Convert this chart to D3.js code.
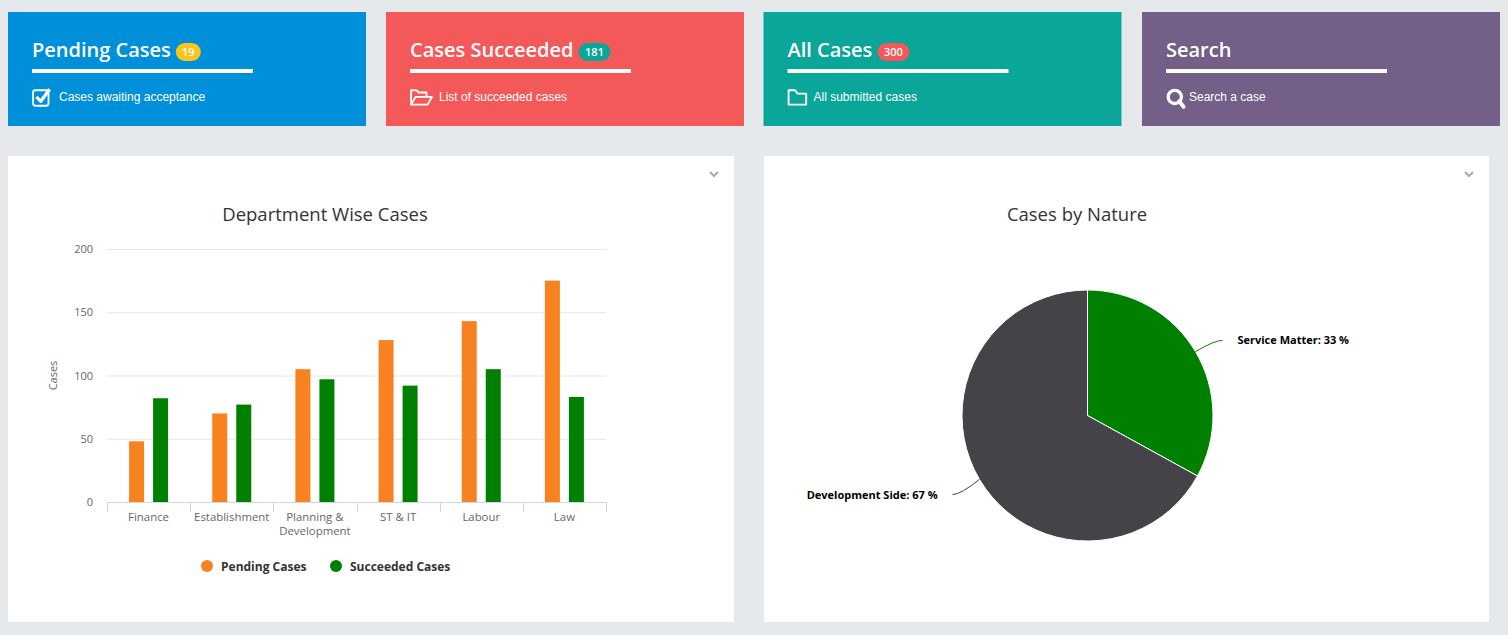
<!DOCTYPE html>
<html>
<head>
<meta charset="utf-8">
<script src="https://cdnjs.cloudflare.com/ajax/libs/d3/7.8.5/d3.min.js"></script>
<style>
  body { margin: 0; background: #e5e9ec; }
  svg { display: block; }
</style>
</head>
<body>
<div id="page"></div>
<script>
var pageWidth = 1508;
var pageHeight = 635;

// top tiles
var tileTitles = ["Pending Cases", "Cases Succeeded", "All Cases", "Search"];
var tileBadges = ["19", "181", "300", null];
var tileTexts = ["Cases awaiting acceptance", "List of succeeded cases", "All submitted cases", "Search a case"];
var tileIcons = ["check", "folderOpen", "folder", "search"];
var tileColors = ["#0090d9", "#f35958", "#0aa699", "#735f87"];
var badgeColors = ["#fbc51b", "#0aa699", "#f35958", null];

// bar chart
var departments = ["Finance", "Establishment", "Planning & Development", "ST & IT", "Labour", "Law"];
var pendingCases = [48, 70, 105, 128, 143, 175];
var succeededCases = [82, 77, 97, 92, 105, 83];
var seriesNames = ["Pending Cases", "Succeeded Cases"];
var seriesColors = ["#f7821f", "#008000"];
var yTicks = [0, 50, 100, 150, 200];

// pie chart
var natureLabels = ["Service Matter", "Development Side"];
var natureValues = [33, 67];
var natureColors = ["#008000", "#434348"];

var svg = d3.select("#page").append("svg")
  .attr("width", pageWidth)
  .attr("height", pageHeight);

// ---------- tiles ----------
var tileW = 358, tileH = 114, tileGap = 20;

var tiles = svg.selectAll("g.tile")
  .data(tileTitles)
  .enter()
  .append("g")
  .attr("class", "tile")
  .attr("transform", (d, i) => `translate(${8 + i * (tileW + tileGap) - (i == 2 ? 0.5 : 0)}, 12)`);

tiles.append("rect")
  .attr("width", tileW)
  .attr("height", tileH)
  .attr("fill", (d, i) => tileColors[i]);

tiles.append("text")
  .attr("x", 24)
  .attr("y", 45)
  .attr("fill", "#fff")
  .style("font-family", "'Open Sans', sans-serif")
  .style("font-weight", 600)
  .style("font-size", "20px")
  .text(d => d);

tiles.each(function(d, i) {
  if (!tileBadges[i]) return;
  var g = d3.select(this);
  var tw = g.select("text").node().getComputedTextLength();
  var bw = tileBadges[i].length * 7 + 11;
  g.append("rect")
    .attr("x", 24 + tw + 5)
    .attr("y", 31)
    .attr("width", bw)
    .attr("height", 18)
    .attr("rx", 9)
    .attr("fill", badgeColors[i]);
  g.append("text")
    .attr("x", 24 + tw + 5 + bw / 2)
    .attr("y", 44)
    .attr("text-anchor", "middle")
    .attr("fill", "#fff")
    .style("font-family", "'Open Sans', sans-serif")
    .style("font-weight", 600)
    .style("font-size", "11px")
    .text(tileBadges[i]);
});

tiles.append("rect")
  .attr("x", 24)
  .attr("y", 57)
  .attr("width", 221)
  .attr("height", 4)
  .attr("fill", "#fff");

tiles.append("text")
  .attr("x", (d, i) => [51, 53, 50, 47][i])
  .attr("y", 89)
  .attr("fill", "#fff")
  .style("font-family", "'Liberation Sans', Arial, sans-serif")
  .style("font-size", "12px")
  .text((d, i) => tileTexts[i]);

// small icons
tiles.each(function(d, i) {
  var g = d3.select(this).append("g")
    .attr("transform", "translate(24, 75) scale(1.1)")
    .attr("fill", "none")
    .attr("stroke", "#fff")
    .attr("stroke-width", 1.7)
    .attr("stroke-linejoin", "round");
  if (tileIcons[i] == "check") {
    g.append("rect").attr("x", 1).attr("y", 3).attr("width", 14).attr("height", 14).attr("rx", 2);
    g.append("path").attr("d", "M4,9 L8,13 L16,2").attr("stroke-width", 3);
  } else if (tileIcons[i] == "folderOpen") {
    g.append("path").attr("d", "M1,16 L1,3 L6,3 L8,5 L15,5 L15,9");
    g.append("path").attr("d", "M1,16 L5,9 L20,9 L16,16 Z");
  } else if (tileIcons[i] == "folder") {
    g.append("path").attr("d", "M1,16 L1,3 L7,3 L9,6 L17,6 L17,16 Z");
  } else {
    g.append("circle").attr("cx", 8).attr("cy", 9).attr("r", 6).attr("stroke-width", 3);
    g.append("path").attr("d", "M12,13 L16,18").attr("stroke-width", 3.5).attr("stroke-linecap", "round");
  }
});

// ---------- chart panels ----------
var panels = [{x: 8, w: 726}, {x: 764, w: 725}];
panels.forEach(function(p) {
  svg.append("rect")
    .attr("x", p.x).attr("y", 156)
    .attr("width", p.w).attr("height", 466)
    .attr("fill", "#fff");
  svg.append("path")
    .attr("d", `M${p.x + p.w - 24},172 l4,4 l4,-4`)
    .attr("fill", "none")
    .attr("stroke", "#aaa")
    .attr("stroke-width", 2);
});

// ---------- bar chart ----------
var margin = {top: 249, left: 107};
var chartWidth = 606 - margin.left;
var chartHeight = 502 - margin.top;

var chartGroup = svg.append("g")
  .attr("transform", `translate(${margin.left}, ${margin.top})`);

var xScale = d3.scaleBand()
  .domain(departments)
  .range([0, chartWidth]);

var xInner = d3.scaleBand()
  .domain(seriesNames)
  .range([0, xScale.bandwidth()])
  .paddingInner(0.375)
  .paddingOuter(0.92);

var yScale = d3.scaleLinear()
  .domain([0, 200])
  .range([chartHeight, 0]);

// grid
chartGroup.selectAll("line.grid")
  .data(yTicks.slice(1))
  .enter()
  .append("line")
  .attr("x1", 0)
  .attr("x2", chartWidth)
  .attr("y1", d => yScale(d) + 0.5)
  .attr("y2", d => yScale(d) + 0.5)
  .attr("stroke", "#e6e6e6");

var yAxis = d3.axisLeft(yScale).tickValues(yTicks).tickSize(0).tickPadding(14);
var yAxisG = chartGroup.append("g").call(yAxis);
yAxisG.select(".domain").remove();
yAxisG.selectAll("text")
  .attr("fill", "#666")
  .style("font-family", "'Open Sans', sans-serif")
  .style("font-size", "11px");

var xAxis = d3.axisBottom(xScale).tickSize(0).tickFormat("");
var xAxisG = chartGroup.append("g")
  .attr("transform", `translate(0, ${chartHeight + 0.5})`)
  .call(xAxis);
xAxisG.select(".domain").attr("stroke", "#ccd6eb").attr("d", `M0,0H${chartWidth}`);

// tick marks at band edges
chartGroup.selectAll("line.xtick")
  .data(departments.concat(["end"]))
  .enter()
  .append("line")
  .attr("x1", (d, i) => Math.round(i * xScale.step()) + 0.5)
  .attr("x2", (d, i) => Math.round(i * xScale.step()) + 0.5)
  .attr("y1", chartHeight)
  .attr("y2", chartHeight + 10)
  .attr("stroke", "#ccd6eb");

// x labels (wrapped)
var xLabels = chartGroup.selectAll("text.xlabel")
  .data(departments)
  .enter()
  .append("text")
  .attr("class", "xlabel")
  .attr("text-anchor", "middle")
  .attr("fill", "#666")
  .style("font-family", "'Open Sans', sans-serif")
  .style("font-size", "11.4px");

xLabels.each(function(d) {
  var t = d3.select(this);
  var lines = d.length > 15 ? ["Planning &", "Development"] : [d];
  lines.forEach(function(line, j) {
    t.append("tspan")
      .attr("x", xScale(d) + xScale.bandwidth() / 2)
      .attr("y", chartHeight + 19 + j * 14)
      .text(line);
  });
});

var seriesData = [pendingCases, succeededCases];

seriesNames.forEach(function(name, s) {
  chartGroup.selectAll("rect.s" + s)
    .data(seriesData[s])
    .enter()
    .append("rect")
    .attr("class", "s" + s)
    .attr("x", (d, i) => xScale(departments[i]) + xInner(name))
    .attr("width", xInner.bandwidth())
    .attr("y", d => yScale(d))
    .attr("height", d => chartHeight - yScale(d))
    .attr("fill", seriesColors[s]);
});

chartGroup.append("text")
  .attr("transform", `translate(${57 - margin.left}, ${chartHeight / 2}) rotate(-90)`)
  .attr("text-anchor", "middle")
  .attr("fill", "#666")
  .style("font-family", "'Open Sans', sans-serif")
  .style("font-size", "11px")
  .text("Cases");

svg.append("text")
  .attr("x", 325)
  .attr("y", 221)
  .attr("text-anchor", "middle")
  .attr("fill", "#333")
  .style("font-family", "'Open Sans', sans-serif")
  .style("font-size", "18.5px")
  .text("Department Wise Cases");

// legend
var legend = svg.selectAll("g.legend")
  .data(seriesNames)
  .enter()
  .append("g")
  .attr("class", "legend")
  .attr("transform", (d, i) => `translate(${207 + i * 129}, 566)`);

legend.append("circle")
  .attr("r", 6)
  .attr("fill", (d, i) => seriesColors[i]);

legend.append("text")
  .attr("x", 14)
  .attr("y", 4.5)
  .attr("fill", "#333")
  .style("font-family", "'Open Sans', sans-serif")
  .style("font-weight", 700)
  .style("font-size", "12px")
  .text(d => d);

// ---------- pie chart ----------
svg.append("text")
  .attr("x", 1077)
  .attr("y", 221)
  .attr("text-anchor", "middle")
  .attr("fill", "#333")
  .style("font-family", "'Open Sans', sans-serif")
  .style("font-size", "18.5px")
  .text("Cases by Nature");

var pieCx = 1087.5, pieCy = 415.5, radius = 125.5;

var pie = d3.pie().sort(null)(natureValues);
var arc = d3.arc().innerRadius(0).outerRadius(radius);

var pieGroup = svg.append("g")
  .attr("transform", `translate(${pieCx}, ${pieCy})`);

pieGroup.selectAll("path.slice")
  .data(pie)
  .enter()
  .append("path")
  .attr("class", "slice")
  .attr("d", arc)
  .attr("fill", (d, i) => natureColors[i])
  .attr("stroke", "#fff")
  .attr("stroke-width", 1);

pie.forEach(function(d, i) {
  var mid = (d.startAngle + d.endAngle) / 2;
  var sx = Math.sin(mid), sy = -Math.cos(mid);
  var side = sx >= 0 ? 1 : -1;
  var x0 = sx * radius, y0 = sy * radius;
  var x1 = sx * (radius + 22), y1 = sy * (radius + 22) + (side > 0 ? 0 : 4);
  var x2 = x1 + side * 8;
  pieGroup.append("path")
    .attr("d", `M${x0},${y0} Q${x1},${y1} ${x2},${y1}`)
    .attr("fill", "none")
    .attr("stroke", natureColors[i])
    .attr("stroke-width", 1);
  pieGroup.append("text")
    .attr("x", x2 + side * 15)
    .attr("y", y1 + 4)
    .attr("text-anchor", side > 0 ? "start" : "end")
    .attr("fill", "#000")
    .style("font-family", "'Open Sans', sans-serif")
    .style("font-weight", 700)
    .style("font-size", "11px")
    .text(`${natureLabels[i]}: ${natureValues[i]} %`);
});
</script>
</body>
</html>
